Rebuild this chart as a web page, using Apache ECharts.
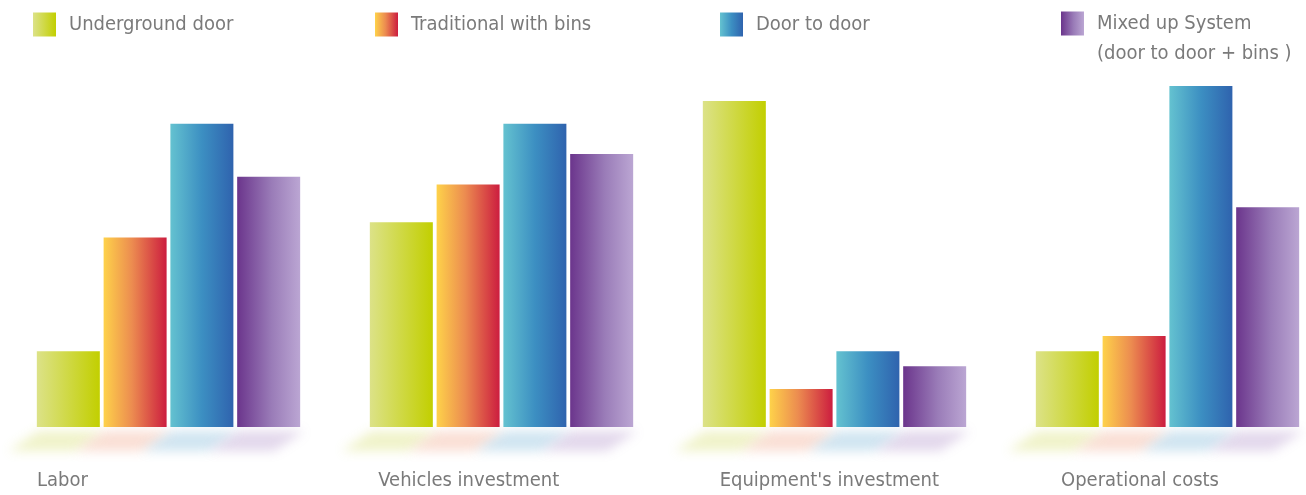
<!DOCTYPE html>
<html>
<head>
<meta charset="utf-8">
<script src="https://cdn.jsdelivr.net/npm/echarts@6/dist/echarts.min.js"></script>
<style>
html,body{margin:0;padding:0;background:#fff;}
#chart{width:1306px;height:495px;}
</style>
</head>
<body>
<div id="chart"></div>
<script>
const categories = ['Labor', 'Vehicles investment', "Equipment's investment", 'Operational costs'];
const seriesNames = ['Underground door', 'Traditional with bins', 'Door to door', 'Mixed up System (door to door + bins )'];
const legendLabels = ['Underground door', 'Traditional with bins', 'Door to door', '\nMixed up System\n(door to door + bins )'];
const underground = [1.0, 2.7, 4.3, 1.0];
const traditional = [2.5, 3.2, 0.5, 1.2];
const doorToDoor = [4.0, 4.0, 1.0, 4.5];
const mixedUp = [3.3, 3.6, 0.8, 2.9];

const seriesValues = [underground, traditional, doorToDoor, mixedUp];
const gradStops = [
  [['#dce288', 0], ['#c2cf00', 1]],
  [['#fed24a', 0], ['#ec8c50', 0.45], ['#cc1d3f', 1]],
  [['#64c2d0', 0], ['#3c8fc2', 0.5], ['#2f63ae', 1]],
  [['#6b358c', 0], ['#9a7cb8', 0.55], ['#bba6d3', 1]]
];
const reflectColors = ['rgba(205,215,80,0.30)', 'rgba(238,135,100,0.27)', 'rgba(80,160,205,0.27)', 'rgba(150,110,185,0.27)'];

const FONT = "'Liberation Sans Narrow', 'DejaVu Sans Condensed', 'Roboto', sans-serif";
const TEXT_COLOR = '#7a7a7a';
const BAR_W = 63;
const BAR_GAP = 0.06;

function grad(stops) {
  return new echarts.graphic.LinearGradient(0, 0, 1, 0, stops.map(s => ({offset: s[1], color: s[0]})));
}

const chart = echarts.init(document.getElementById('chart'));

const barSeries = seriesValues.map((vals, i) => ({
  type: 'bar',
  name: seriesNames[i],
  data: vals,
  barWidth: BAR_W,
  barGap: (BAR_GAP * 100) + '%',
  clip: false,
  xAxisIndex: 0,
  yAxisIndex: 0,
  itemStyle: {color: grad(gradStops[i])},
  emphasis: {disabled: true},
  z: 3
}));

const OFF = 2000;
const reflectSeries = seriesValues.map((vals, i) => ({
  type: 'custom',
  name: 'reflection' + i,
  data: vals.map((v, k) => [k, v]),
  xAxisIndex: 0,
  yAxisIndex: 0,
  silent: true,
  clip: false,
  z: 1,
  renderItem: function (params, api) {
    const c = api.coord([api.value(0), 0]);
    const gap = BAR_W * BAR_GAP;
    const total = 4 * BAR_W + 3 * gap;
    const x0 = c[0] - total / 2 + i * (BAR_W + gap);
    const y0 = c[1];
    return {
      type: 'polygon',
      silent: true,
      shape: {points: [
        [x0 + 2, y0 + 4 - OFF], [x0 + BAR_W + 4, y0 + 4 - OFF],
        [x0 + BAR_W - 26, y0 + 24 - OFF], [x0 - 28, y0 + 24 - OFF]
      ]},
      style: {fill: '#000', shadowBlur: 11, shadowColor: reflectColors[i], shadowOffsetX: 0, shadowOffsetY: OFF}
    };
  }
}));

const legendLefts = [33, 375, 720, 1061];
const legends = seriesNames.map((n, i) => {
  const isLast = i === 3;
  return {
    data: [n],
    left: legendLefts[i],
    top: isLast ? 13 - 34.5 : 13 - 3.5,
    padding: 0,
    itemWidth: 23,
    itemHeight: 24,
    icon: 'rect',
    selectedMode: false,
    formatter: () => legendLabels[i],
    textStyle: {
      fontFamily: FONT, fontSize: 20, color: TEXT_COLOR, lineHeight: 30,
      padding: [0, 0, 0, 8]
    }
  };
});

chart.setOption({
  animation: false,
  backgroundColor: '#ffffff',
  legend: legends,
  grid: [
    {left: 168.5, right: 138.5, top: 48, bottom: 68},
    {left: 37, width: 1024, top: 48, bottom: 68}
  ],
  xAxis: [
    {type: 'category', gridIndex: 0, data: categories, boundaryGap: false, show: false},
    {type: 'category', gridIndex: 1, data: categories, boundaryGap: false,
     axisLine: {show: false}, axisTick: {show: false}, splitLine: {show: false},
     axisLabel: {align: 'left', margin: 44, fontFamily: FONT, fontSize: 20, color: TEXT_COLOR, interval: 0}}
  ],
  yAxis: [
    {type: 'value', gridIndex: 0, min: 0, max: 5, show: false},
    {type: 'value', gridIndex: 1, min: 0, max: 5, show: false}
  ],
  series: barSeries.concat(reflectSeries)
});
</script>
</body>
</html>
